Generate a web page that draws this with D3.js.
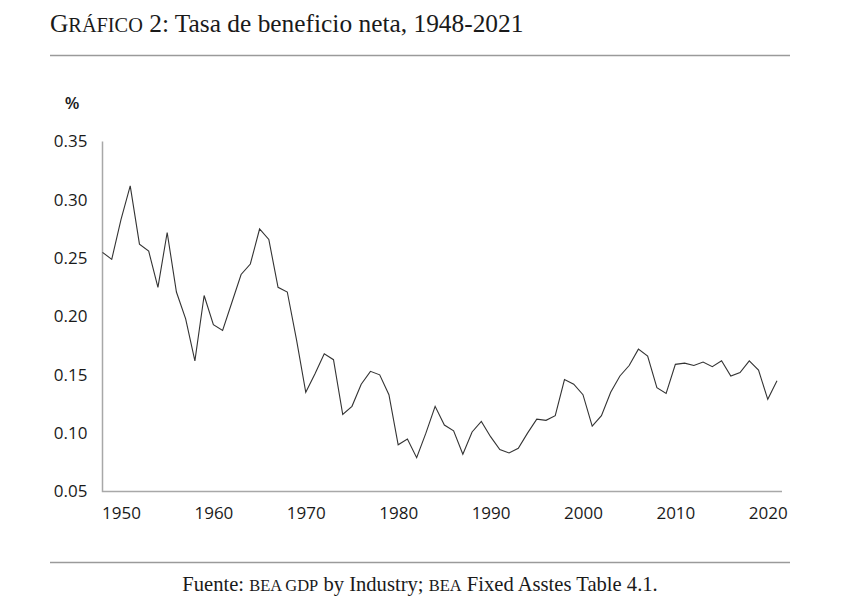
<!DOCTYPE html>
<html>
<head>
<meta charset="utf-8">
<script src="https://cdn.jsdelivr.net/npm/d3@7"></script>
<style>
  body { margin: 0; background: #fff; }
  svg { display: block; }
</style>
</head>
<body>
<div class="svg-container"></div>
<script>
// data
var years = [1948,1949,1950,1951,1952,1953,1954,1955,1956,1957,1958,1959,1960,1961,1962,1963,1964,1965,1966,1967,1968,1969,1970,1971,1972,1973,1974,1975,1976,1977,1978,1979,1980,1981,1982,1983,1984,1985,1986,1987,1988,1989,1990,1991,1992,1993,1994,1995,1996,1997,1998,1999,2000,2001,2002,2003,2004,2005,2006,2007,2008,2009,2010,2011,2012,2013,2014,2015,2016,2017,2018,2019,2020,2021];
var rates = [0.255,0.249,0.283,0.312,0.262,0.256,0.225,0.272,0.221,0.198,0.162,0.218,0.193,0.188,0.212,0.236,0.245,0.275,0.266,0.225,0.221,0.180,0.135,0.151,0.168,0.163,0.116,0.123,0.142,0.153,0.150,0.133,0.090,0.095,0.079,0.100,0.123,0.107,0.102,0.082,0.101,0.110,0.097,0.086,0.083,0.087,0.100,0.112,0.111,0.115,0.146,0.142,0.133,0.106,0.115,0.135,0.149,0.158,0.172,0.166,0.139,0.134,0.159,0.160,0.158,0.161,0.157,0.162,0.149,0.152,0.162,0.154,0.129,0.145];
var yTicks = [0.05,0.10,0.15,0.20,0.25,0.30,0.35];
var xTicks = [1950,1960,1970,1980,1990,2000,2010,2020];

var width = 854, height = 606;
var serif = '"Liberation Serif", "DejaVu Serif", serif';
var sans = '"Open Sans", "DejaVu Sans", sans-serif';

var svg = d3.select(".svg-container").append("svg")
  .attr("width", width)
  .attr("height", height);

var x = d3.scaleLinear().domain([1948, 2021]).range([102.5, 777]);
var y = d3.scaleLinear().domain([0.05, 0.35]).range([491.5, 141.5]);

// small caps: uppercase at a smaller size
var smallCaps = function(sel, txt) {
  sel.append("tspan").style("font-size", "0.8em").text(txt.toUpperCase());
};

// title
var title = svg.append("text")
  .attr("x", 50).attr("y", 32)
  .style("font-family", serif)
  .style("font-size", "25.4px")
  .style("fill", "#1a1a1a");
title.append("tspan").text("G");
smallCaps(title, "ráfico");
title.append("tspan").text(" 2: Tasa de beneficio neta, 1948-2021");

svg.append("line")
  .attr("x1", 50).attr("x2", 790)
  .attr("y1", 55.5).attr("y2", 55.5)
  .style("stroke", "#9a9a9a").style("stroke-width", 1.5);

svg.append("line")
  .attr("x1", 50).attr("x2", 790)
  .attr("y1", 562.5).attr("y2", 562.5)
  .style("stroke", "#9a9a9a").style("stroke-width", 1.5);

// footer
var foot = svg.append("text")
  .attr("x", 420).attr("y", 591)
  .attr("text-anchor", "middle")
  .style("font-family", serif)
  .style("font-size", "20.6px")
  .style("fill", "#1a1a1a");
foot.append("tspan").text("Fuente: ");
smallCaps(foot, "bea gdp");
foot.append("tspan").text(" by Industry; ");
smallCaps(foot, "bea");
foot.append("tspan").text(" Fixed Asstes Table 4.1.");

// axes
var yAxis = svg.append("g")
  .attr("transform", "translate(" + x(1948) + ",0)")
  .call(d3.axisLeft(y).tickValues(yTicks).tickFormat(d3.format(".2f")).tickSize(0).tickPadding(15));

var xAxis = svg.append("g")
  .attr("transform", "translate(0," + y(0.05) + ")")
  .call(d3.axisBottom(x).tickValues(xTicks).tickFormat(d3.format("d")).tickSize(0).tickPadding(15));

yAxis.select(".domain").remove();
xAxis.select(".domain").remove();

svg.selectAll(".tick text")
  .style("font-family", sans)
  .style("font-size", "17px")
  .style("fill", "#1a1a1a");

svg.append("path")
  .attr("d", "M" + x(1948) + "," + y(0.35) + "V" + y(0.05) + "H" + (x(2021) + 5))
  .style("fill", "none")
  .style("stroke", "#a8a8a8")
  .style("stroke-width", 1.5);

svg.append("text")
  .attr("x", 72).attr("y", 109)
  .attr("text-anchor", "middle")
  .style("font-family", sans)
  .style("font-size", "17px")
  .style("font-weight", "600")
  .style("fill", "#1a1a1a")
  .text("%");

// series
var line = d3.line()
  .x(function(d, i){ return x(years[i]); })
  .y(function(d){ return y(d); });

svg.append("path")
  .datum(rates)
  .attr("d", line)
  .style("fill", "none")
  .style("stroke", "#333")
  .style("stroke-width", 1.1)
  .style("stroke-linejoin", "miter");
</script>
</body>
</html>
